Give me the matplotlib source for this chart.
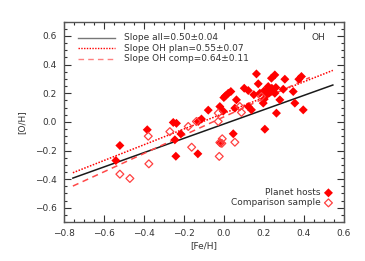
"""[O/H] vs [Fe/H] for planet hosts and comparison sample."""

import matplotlib
matplotlib.use('Agg')
import matplotlib.pyplot as plt
from matplotlib.ticker import MultipleLocator
import numpy as np

# planet hosts (filled diamonds)
host_feh = [-0.54, -0.52, -0.383, -0.253, -0.237, -0.215, -0.245, -0.24, -0.13,
            -0.128, -0.112, -0.078, -0.017, -0.02, -0.003, 0.008, 0.022, 0.035,
            0.055, 0.047, 0.063, 0.102, 0.122, 0.138, 0.122, 0.163, 0.172, 0.18,
            0.197, 0.202, 0.205, 0.222, 0.213, 0.23, 0.238, 0.255, 0.255, 0.263,
            0.28, 0.297, 0.305, 0.347, 0.355, 0.375, 0.388, 0.397, 0.215, 0.24,
            0.225, 0.2, 0.15, 0.26, 0.0]
host_oh = [-0.27, -0.165, -0.055, -0.004, -0.01, -0.084, -0.125, -0.24, -0.223,
           0.003, 0.02, 0.082, -0.148, 0.107, 0.075, 0.182, 0.2, 0.212,
           0.096, -0.083, 0.154, 0.235, 0.107, 0.084, 0.219, 0.335, 0.266, 0.2,
           0.131, 0.159, -0.051, 0.247, 0.189, 0.212, 0.305, 0.2, 0.328, 0.061,
           0.154, 0.228, 0.298, 0.212, 0.131, 0.298, 0.317, 0.084, 0.225, 0.235,
           0.2, 0.215, 0.19, 0.24, 0.17]

# comparison sample (open diamonds)
comp_feh = [-0.52, -0.47, -0.375, -0.378, -0.27, -0.178, -0.137, -0.161, -0.028,
            -0.028, -0.023, -0.02, -0.008, 0.055, 0.188, 0.08, 0.088, -0.01]
comp_oh = [-0.365, -0.395, -0.293, -0.1, -0.068, -0.032, 0.003, -0.177, 0.003,
           0.061, -0.241, -0.144, -0.118, -0.142, 0.177, 0.107, 0.066, -0.15]

# fitted lines: slope, intercept, x range
fit_labels = ['Slope all=0.50\u00b10.04', 'Slope OH plan=0.55\u00b10.07',
              'Slope OH comp=0.64\u00b10.11']
fit_slopes = [0.50, 0.55, 0.64]
fit_inter = [-0.015, 0.06, 0.035]
fit_xmin = [-0.755, -0.755, -0.755]
fit_xmax = [0.545, 0.545, 0.43]

FG = '#333333'
LINE_COLS = ['#1a1a1a', '#ff0000', '#ff4848']
LEG_COLS = ['#777777', '#ff0000', '#ff8080']
LINE_STYLES = ['-', (0, (1, 1)), (0, (4, 3))]

plt.rcParams['font.family'] = 'DejaVu Sans'
plt.rcParams['font.size'] = 6.5

fig = plt.figure(figsize=(3.65, 2.61), dpi=100)
ax = fig.add_axes([0.175, 0.149, 0.767, 0.768])

for i in range(3):
    xs = np.array([fit_xmin[i], fit_xmax[i]])
    ax.plot(xs, fit_slopes[i] * xs + fit_inter[i], color=LINE_COLS[i],
            ls=LINE_STYLES[i], lw=1.1, zorder=2)

ax.scatter(host_feh, host_oh, marker='D', s=21, c='#ff0000',
           edgecolors='none', zorder=3)
ax.scatter(comp_feh, comp_oh, marker='D', s=16, facecolors='none',
           edgecolors='#ff4040', linewidths=0.9, zorder=3)

# legend for the lines, top left
leg_y = [0.919, 0.867, 0.815]
for i in range(3):
    ax.plot([0.05, 0.182], [leg_y[i]] * 2, transform=ax.transAxes,
            color=LEG_COLS[i], ls=LINE_STYLES[i], lw=1.0)
    ax.text(0.215, leg_y[i], fit_labels[i], transform=ax.transAxes,
            va='center', ha='left', color=FG)
ax.text(0.91, 0.919, 'OH', transform=ax.transAxes, va='center', ha='center',
        color=FG)

# legend for the samples, bottom right
ax.text(0.918, 0.146, 'Planet hosts', transform=ax.transAxes, va='center',
        ha='right', color=FG)
ax.scatter([0.945], [0.146], transform=ax.transAxes, marker='D', s=21,
           c='#ff0000', edgecolors='none')
ax.text(0.918, 0.096, 'Comparison sample', transform=ax.transAxes,
        va='center', ha='right', color=FG)
ax.scatter([0.945], [0.096], transform=ax.transAxes, marker='D', s=16,
           facecolors='none', edgecolors='#ff4040', linewidths=0.9)

ax.set_xlim(-0.8, 0.6)
ax.set_ylim(-0.7, 0.7)
ax.xaxis.set_major_locator(MultipleLocator(0.2))
ax.xaxis.set_minor_locator(MultipleLocator(0.05))
ax.yaxis.set_major_locator(MultipleLocator(0.2))
ax.yaxis.set_minor_locator(MultipleLocator(0.05))
ax.tick_params(which='both', direction='in', top=True, right=True,
               colors=FG, labelsize=6.5, width=0.8)
ax.tick_params(which='major', length=5, pad=5)
ax.tick_params(which='minor', length=2.5)
for sp in ax.spines.values():
    sp.set_color('#555555')
    sp.set_linewidth(1.0)

ax.set_xlabel('[Fe/H]', color=FG, labelpad=2)
ax.set_ylabel('[O/H]', color=FG, labelpad=6)

fig.savefig('out.png', dpi=100)
